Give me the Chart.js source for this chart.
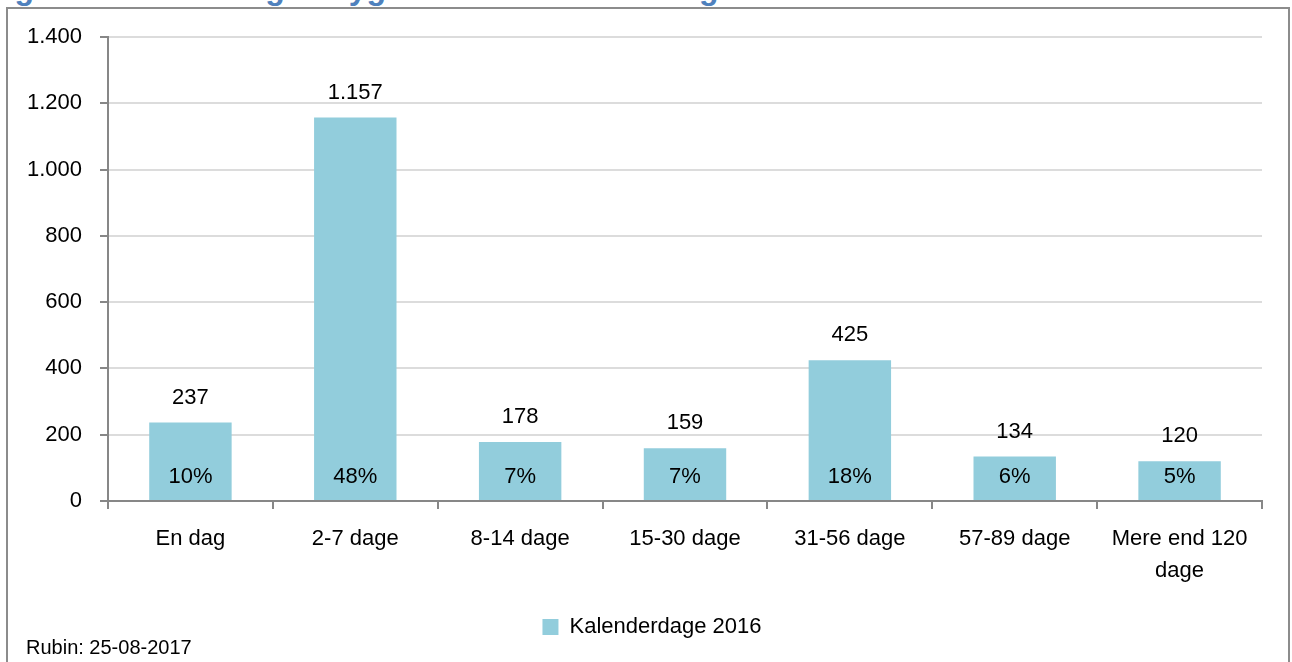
<!DOCTYPE html>
<html lang="da">
<head>
    <meta charset="UTF-8">
    <title>Sygefravær kalenderdage 2016</title>
    <script src="https://cdn.jsdelivr.net/npm/chart.js"></script>
    <style>
        body { margin: 0; background: #fff; font-family: "Liberation Sans", Arial, sans-serif; overflow: hidden; }
        #title { position: absolute; left: -14px; top: -28px; font-size: 32px; line-height: 32px; font-weight: bold; color: #4f81bd; white-space: nowrap; }
        #frame { position: absolute; left: 6px; top: 7px; width: 1280px; height: 720px; border: 2px solid #8c8c8c; }
        #source { position: absolute; left: 26px; top: 636px; font-size: 20px; color: #000; }
        #salesChart { position: absolute; left: 0; top: 0; }
    </style>
</head>
<body>
    <div id="title">Figur 3.6: Fordeling af sygefravær i kalenderdage 2016</div>
    <div id="frame"></div>
    <canvas id="salesChart" width="1292" height="662"></canvas>
    <div id="source">Rubin: 25-08-2017</div>

    <script>
        // data
        const categories = ['En dag', '2-7 dage', '8-14 dage', '15-30 dage', '31-56 dage', '57-89 dage', ['Mere end 120', 'dage']];
        const counts = [237, 1157, 178, 159, 425, 134, 120];
        const shares = [10, 48, 7, 7, 18, 6, 5];
        const seriesName = 'Kalenderdage 2016';
        const yTicks = [0, 200, 400, 600, 800, 1000, 1200, 1400];

        const FONT = '"Liberation Sans", Arial, sans-serif';

        // dansk tusindtalsseparator
        function fmt(v) {
            return String(v).replace(/\B(?=(\d{3})+(?!\d))/g, '.');
        }

        // tal over søjlerne og procent inde i søjlerne
        const barLabels = {
            id: 'barLabels',
            afterLayout(chart) {
                // flyt legenden lidt til højre, som i originalen
                chart.legend.left += 21;
                chart.legend.right += 21;
            },
            afterDatasetsDraw(chart) {
                const ctx = chart.ctx;
                const y = chart.scales.y;
                const meta = chart.getDatasetMeta(0);
                ctx.save();
                ctx.font = '22px ' + FONT;
                ctx.fillStyle = '#000';
                ctx.textAlign = 'center';
                ctx.textBaseline = 'middle';
                meta.data.forEach((bar, i) => {
                    ctx.fillText(fmt(counts[i]), bar.x, bar.y - 25);
                    ctx.fillText(shares[i] + '%', bar.x, y.getPixelForValue(0) - 24);
                });
                ctx.restore();
            }
        };

        const ctx = document.getElementById('salesChart').getContext('2d');
        const salesChart = new Chart(ctx, {
            type: 'bar',
            data: {
                labels: categories,
                datasets: [{
                    label: seriesName,
                    data: counts,
                    backgroundColor: '#92cddc',
                    borderWidth: 0,
                    categoryPercentage: 1,
                    barPercentage: 0.5
                }]
            },
            options: {
                responsive: false,
                animation: false,
                layout: { padding: { left: 0, right: 30, top: 37, bottom: 14 } },
                plugins: {
                    legend: {
                        position: 'bottom',
                        labels: {
                            boxWidth: 16,
                            boxHeight: 16,
                            color: '#000',
                            font: { family: FONT, size: 22 }
                        }
                    },
                    tooltip: { enabled: false }
                },
                scales: {
                    x: {
                        offset: true,
                        grid: {
                            offset: true,
                            drawOnChartArea: false,
                            tickLength: 8,
                            tickColor: '#878787',
                            lineWidth: 2
                        },
                        border: { color: '#878787', width: 2 },
                        ticks: {
                            color: '#000',
                            padding: 14,
                            maxRotation: 0,
                            font: { family: FONT, size: 22, lineHeight: 1.45 }
                        },
                        afterFit(scale) { scale.height = 105; }
                    },
                    y: {
                        min: 0,
                        max: 1400,
                        afterBuildTicks(scale) { scale.ticks = yTicks.map(v => ({ value: v })); },
                        grid: {
                            color: '#dcdcdc',
                            lineWidth: 2,
                            tickLength: 8,
                            tickColor: '#878787'
                        },
                        border: { color: '#878787', width: 2 },
                        ticks: {
                            color: '#000',
                            padding: 18,
                            font: { family: FONT, size: 22 },
                            callback: v => fmt(v)
                        },
                        afterFit(scale) { scale.width = 108; }
                    }
                }
            },
            plugins: [barLabels]
        });
    </script>
</body>
</html>
